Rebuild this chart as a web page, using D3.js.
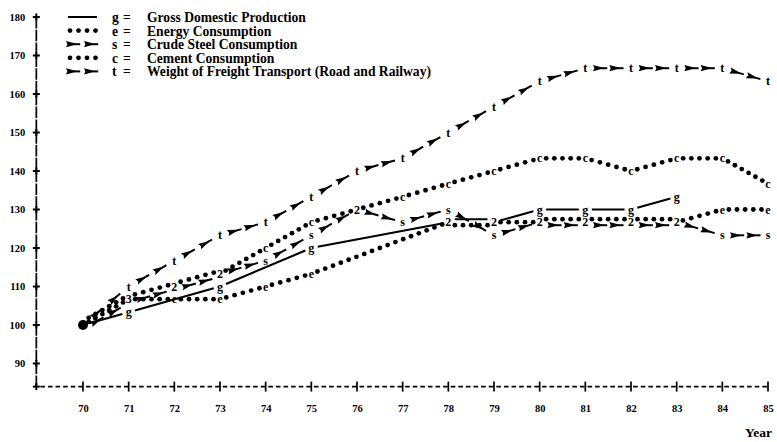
<!DOCTYPE html>
<html><head><meta charset="utf-8">
<script src="https://cdn.jsdelivr.net/npm/d3@7"></script>
<style>body{margin:0;background:#fff} svg{display:block}</style>
</head><body>
<svg id="chart" width="777" height="442"></svg>
<script>
// ---- data (index, 1970 = 100) ----
const years   = [70,71,72,73,74,75,76,77,78,79,80,81,82,83,84,85];
const yTicks  = [90,100,110,120,130,140,150,160,170,180];
const gdp     = [100,103.3,null,110,null,120,null,null,126.7,126.7,130,130,130,133.3,null,null];
const energy  = [100,106.7,106.7,106.7,110,113.3,null,null,126.7,126.7,126.7,126.7,126.7,126.7,130,130];
const steel   = [100,106.7,110,113.3,116.7,123.3,130,126.7,130,123.3,126.7,126.7,126.7,126.7,123.3,123.3];
const cement  = [100,106.7,110,113.3,120,126.7,130,133.3,136.7,140,143.3,143.3,140,143.3,143.3,136.7];
const freight = [100,110,116.7,123.3,126.7,133.3,140,143.3,150,156.7,163.3,166.7,166.7,166.7,166.7,163.3];
const seriesKeys  = ['g','e','s','c','t'];
const seriesNames = ['Gross Domestic Production','Energy Consumption','Crude Steel Consumption',
                     'Cement Consumption','Weight of Freight Transport (Road and Railway)'];
const axisTitle = 'Year';

// ---- styles ----
const styles = {g:'line', e:'dots', s:'arrows', c:'dots', t:'arrows'};
const values = {g:gdp, e:energy, s:steel, c:cement, t:freight};
const offsetOrder = ['g','c','e','s','t'];
const SERIF = '"Liberation Serif","DejaVu Serif",serif';

const svg = d3.select('#chart');
const x = d3.scaleLinear().domain([70,85]).range([83,768]);
const y = d3.scaleLinear().domain([100,180]).range([325,17]);
const axX = x(69) - 1;        // vertical axis position
const axY = y(84);            // horizontal axis position

// ---- axes ----
const yAxis = svg.append('g').attr('transform',`translate(${axX},0)`)
  .call(d3.axisLeft(y).tickValues(yTicks).tickSize(0).tickPadding(11));
yAxis.select('.domain').remove();
yAxis.selectAll('text').attr('font-family',SERIF).attr('font-weight','bold').attr('font-size',10.5).attr('fill','#000');

const xAxis = svg.append('g').attr('transform',`translate(0,${axY})`)
  .call(d3.axisBottom(x).tickValues(years).tickSize(0).tickPadding(18).tickFormat(d3.format('d')));
xAxis.select('.domain').remove();
xAxis.selectAll('text').attr('font-family',SERIF).attr('font-weight','bold').attr('font-size',10.5).attr('fill','#000');

// vertical axis line (printer bars)
svg.append('line').attr('x1',axX).attr('x2',axX).attr('y1',y(180)).attr('y2',axY)
  .attr('stroke','#000').attr('stroke-width',1.7).attr('stroke-dasharray','11.5,1.3');
// plus marks
svg.append('g').selectAll('line').data(yTicks.concat([84])).join('line')
  .attr('x1',axX-3.5).attr('x2',axX+3.5).attr('y1',d=>y(d)).attr('y2',d=>y(d))
  .attr('stroke','#000').attr('stroke-width',2);
svg.append('g').selectAll('line').data(yTicks.concat([84])).join('line')
  .attr('x1',axX).attr('x2',axX).attr('y1',d=>y(d)-3.5).attr('y2',d=>y(d)+3.5)
  .attr('stroke','#000').attr('stroke-width',2);
// horizontal dashed axis
svg.append('line').attr('x1',axX+4).attr('x2',x(85)).attr('y1',axY).attr('y2',axY)
  .attr('stroke','#000').attr('stroke-width',1.6).attr('stroke-dasharray','4.6,3');
svg.append('g').selectAll('line').data(years).join('line')
  .attr('x1',d=>x(d)).attr('x2',d=>x(d)).attr('y1',axY-5).attr('y2',axY+5)
  .attr('stroke','#000').attr('stroke-width',1.7);

svg.append('text').attr('x',772).attr('y',437).attr('text-anchor','end')
  .attr('font-family',SERIF).attr('font-weight','bold').attr('font-size',13.5).text(axisTitle);

// ---- mark helpers ----
const ink = svg.append('g');
function arrowGlyph(sel){
  sel.append('path').attr('d','M-7,-3.1 L2.5,-0.6 L2.5,0.6 L-7,3.1 L-5.6,0 Z').attr('fill','#000');
  sel.append('line').attr('x1',1).attr('x2',7.2).attr('y1',0).attr('y2',0).attr('stroke','#000').attr('stroke-width',2);
}
function drawDots(ax,ay,bx,by){
  const len = Math.hypot(bx-ax,by-ay); if(len<=0) return;
  const n = Math.max(1,Math.round(len/8.3));
  for(let k=0;k<=n;k++){
    ink.append('circle').attr('cx',ax+(bx-ax)*k/n).attr('cy',ay+(by-ay)*k/n).attr('r',2.4).attr('fill','#000');
  }
}
function drawArrows(ax,ay,bx,by){
  const len = Math.hypot(bx-ax,by-ay); if(len<=0) return;
  const n = Math.max(1,Math.round(len/19));
  const ang = Math.atan2(by-ay,bx-ax)*180/Math.PI;
  for(let k=0;k<n;k++){
    const f=(k+0.5)/n, cx=ax+(bx-ax)*f, cy=ay+(by-ay)*f;
    arrowGlyph(ink.append('g').attr('transform',`translate(${cx},${cy}) rotate(${ang})`));
  }
}
function drawLine(ax,ay,bx,by){
  ink.append('line').attr('x1',ax).attr('y1',ay).attr('x2',bx).attr('y2',by).attr('stroke','#000').attr('stroke-width',2.1);
}
const drawers = {line:drawLine, dots:drawDots, arrows:drawArrows};

// ---- segments ----
const segs = [];
seriesKeys.forEach(key=>{
  const pts = years.map((yr,j)=>values[key][j]==null?null:{yr,v:values[key][j]}).filter(Boolean);
  for(let i=0;i<pts.length-1;i++){
    const a=pts[i], b=pts[i+1];
    segs.push({key,a,b,id:`${a.yr}:${a.v}-${b.yr}:${b.v}`});
  }
});
const segGroups = d3.group(segs,d=>d.id);
const GAP = 6.5;
segs.forEach(s=>{
  const grp = segGroups.get(s.id).slice().sort((p,q)=>offsetOrder.indexOf(p.key)-offsetOrder.indexOf(q.key));
  const n = grp.length, idx = grp.indexOf(s);
  const step = n===2?6:4;
  const off = (idx-(n-1)/2)*step;
  const x0=x(s.a.yr), y0=y(s.a.v), x1=x(s.b.yr), y1=y(s.b.v);
  const L=Math.hypot(x1-x0,y1-y0), ux=(x1-x0)/L, uy=(y1-y0)/L;
  drawers[styles[s.key]](x0+ux*GAP, y0+uy*GAP+off, x1-ux*GAP, y1-uy*GAP+off);
});

// ---- point labels ----
years.forEach((yr,j)=>{
  const pts = seriesKeys.filter(k=>values[k][j]!=null).map(k=>({k,v:values[k][j]}));
  const byV = d3.group(pts,d=>d.v.toFixed(1));
  byV.forEach(list=>{
    const v=list[0].v;
    if(list.length===seriesKeys.length){
      ink.append('circle').attr('cx',x(yr)).attr('cy',y(v)).attr('r',5).attr('fill','#000');
    } else {
      ink.append('text').attr('x',x(yr)).attr('y',y(v)).attr('text-anchor','middle')
        .attr('dominant-baseline','central').attr('font-family',SERIF).attr('font-weight','bold')
        .attr('font-size',12).text(list.length>1?String(list.length):list[0].k);
    }
  });
});

// ---- legend ----
const leg = svg.append('g');
seriesKeys.forEach((key,i)=>{
  const ly = 17 + i*13.6;
  const st = styles[key];
  if(st==='line'){
    leg.append('line').attr('x1',68).attr('x2',97).attr('y1',ly).attr('y2',ly).attr('stroke','#000').attr('stroke-width',2);
  } else if(st==='dots'){
    [70,78.5,87,95.5].forEach(cx=>leg.append('circle').attr('cx',cx).attr('cy',ly).attr('r',2.4).attr('fill','#000'));
  } else {
    [73,91].forEach(cx=>arrowGlyph(leg.append('g').attr('transform',`translate(${cx},${ly})`)));
  }
  const t = leg.append('text').attr('y',ly).attr('dominant-baseline','central')
    .attr('font-family',SERIF).attr('font-weight','bold').attr('font-size',13.6);
  t.append('tspan').attr('x',112).text(key);
  t.append('tspan').attr('x',123).text('=');
  t.append('tspan').attr('x',147).text(seriesNames[i]);
});
</script>
</body></html>
